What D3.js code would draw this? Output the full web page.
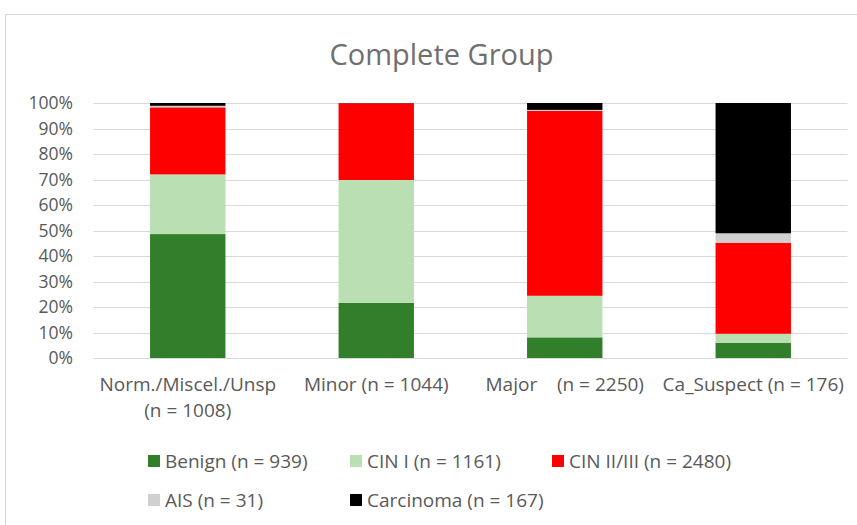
<!DOCTYPE html>
<html><head><meta charset="utf-8">
<script src="https://cdn.jsdelivr.net/npm/d3@7"></script>
<style>body{margin:0;background:#fff}svg{display:block}text{font-family:"Open Sans",Lato,sans-serif}</style>
</head><body><svg id="c" width="857" height="525"></svg>
<script>
const categories = ["Norm./Miscel./Unsp|(n = 1008)", "Minor (n = 1044)", "Major    (n = 2250)", "Ca_Suspect (n = 176)"];
const seriesNames = ["Benign (n = 939)", "CIN I (n = 1161)", "CIN II/III (n = 2480)", "AIS (n = 31)", "Carcinoma (n = 167)"];
const benign = [48.6, 21.6, 8.1, 6.0];
const cin1 = [23.4, 48.2, 16.3, 3.5];
const cin23 = [26.3, 30.1, 72.5, 35.7];
const ais = [0.6, 0.0, 0.4, 3.7];
const carcinoma = [1.1, 0.1, 2.7, 51.1];
const colors = ["#317f2b", "#b9dfb3", "#ff0000", "#d0d0d0", "#000000"];
const yTicks = [0, 10, 20, 30, 40, 50, 60, 70, 80, 90, 100];

const svg = d3.select("#c");
svg.append("rect").attr("x", 5.5).attr("y", 14.5).attr("width", 860).attr("height", 520)
  .attr("fill", "#fff").attr("stroke", "#d9d9d9");

const x = d3.scaleBand().domain(categories).range([93.5, 847.5]).paddingInner(0.6).paddingOuter(0.3);
const y = d3.scaleLinear().domain([0, 100]).range([358, 103]);

svg.append("text").attr("x", 441.5).attr("y", 65).attr("text-anchor", "middle")
  .attr("font-size", 29).attr("fill", "#6f6f6f").text("Complete Group");

// gridlines
svg.append("g").selectAll("line").data(yTicks).join("line")
  .attr("x1", 93.5).attr("x2", 847.5)
  .attr("y1", d => Math.round(y(d)) + 0.5).attr("y2", d => Math.round(y(d)) + 0.5)
  .attr("stroke", "#d9d9d9").attr("stroke-width", 1.2);

const yAxis = d3.axisLeft(y).tickValues(yTicks).tickFormat(d => d + "%").tickSize(0).tickPadding(0);
const ga = svg.append("g").attr("transform", "translate(73,0)").call(yAxis);
ga.select(".domain").remove();
ga.selectAll("text").attr("font-size", 17.5).attr("fill", "#595959").attr("font-family", "'Open Sans',sans-serif");

const data = categories.map((c, i) => ({cat: c, s0: benign[i], s1: cin1[i], s2: cin23[i], s3: ais[i], s4: carcinoma[i]}));
const stack = d3.stack().keys(["s0", "s1", "s2", "s3", "s4"])(data);
svg.append("g").selectAll("g").data(stack).join("g").attr("fill", (d, i) => colors[i])
  .selectAll("rect").data(d => d).join("rect")
  .attr("x", d => x(d.data.cat)).attr("width", x.bandwidth())
  .attr("y", d => y(d[1])).attr("height", d => y(d[0]) - y(d[1]));

// category labels
const gx = svg.append("g");
categories.forEach(c => {
  const lines = c.split("|");
  const t = gx.append("text").attr("x", x(c) + x.bandwidth() / 2).attr("y", 391)
    .attr("text-anchor", "middle").attr("font-size", 19).attr("fill", "#595959");
  lines.forEach((l, k) => t.append("tspan").attr("x", x(c) + x.bandwidth() / 2).attr("dy", k ? 26 : 0).attr("xml:space", "preserve").text(l));
});

// legend
const legPos = [[148, 461], [350, 461], [552, 461], [148, 500], [350, 500]];
const lg = svg.append("g");
seriesNames.forEach((n, i) => {
  lg.append("rect").attr("x", legPos[i][0]).attr("y", legPos[i][1] - 6).attr("width", 12).attr("height", 12).attr("fill", colors[i]);
  lg.append("text").attr("x", legPos[i][0] + 17).attr("y", legPos[i][1] + 7).attr("font-size", 19).attr("fill", "#595959").text(n);
});
</script></body></html>
